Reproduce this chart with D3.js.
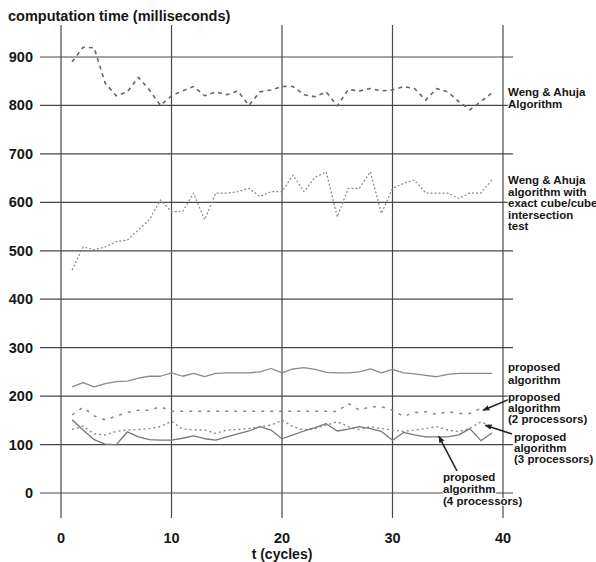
<!DOCTYPE html>
<html>
  <meta charset="utf-8">
  <head>
    <title>computation time</title>
  </head>
  <style>
    body { margin: 0; background: #fff; }
    text { font-family: "Liberation Sans", Arial, sans-serif; font-weight: bold; fill: #161616; }
    .grid line { stroke: #4a4a4a; stroke-width: 1.2; }
    .series { fill: none; stroke-linejoin: round; }
    .note { font-size: 11.5px; paint-order: stroke; stroke: #fff; stroke-width: 2px; }
  </style>
  <script src="https://d3js.org/d3.v7.min.js"></script>
  <body>
    <svg width="596" height="562"></svg>

    <script>
      // t (cycles)
      var cycles = [1, 2, 3, 4, 5, 6, 7, 8, 9, 10, 11, 12, 13, 14, 15, 16, 17, 18, 19, 20,
                    21, 22, 23, 24, 25, 26, 27, 28, 29, 30, 31, 32, 33, 34, 35, 36, 37, 38, 39];

      // computation time (ms)
      var wengAhuja = [890, 920, 919, 846, 820, 828, 858, 832, 800, 820, 830, 839, 820, 828, 822, 830, 800, 828, 832, 839,
                       839, 822, 818, 828, 799, 833, 830, 835, 830, 832, 839, 835, 811, 835, 828, 808, 791, 808, 826];
      var wengAhujaExact = [460, 508, 502, 508, 519, 522, 543, 564, 605, 581, 581, 619, 564, 619, 619, 622, 629, 612, 622, 622,
                            656, 622, 652, 663, 570, 629, 629, 663, 577, 629, 639, 646, 619, 619, 619, 608, 619, 619, 646];
      var proposed = [219, 228, 219, 226, 230, 231, 237, 241, 241, 248, 241, 247, 240, 247, 248, 248, 248, 250, 257, 248,
                      256, 259, 255, 249, 248, 248, 250, 256, 248, 255, 248, 246, 243, 240, 245, 247, 247, 247, 247];
      var proposed2 = [161, 177, 159, 151, 159, 166, 171, 171, 178, 169, 169, 169, 169, 169, 169, 169, 169, 169, 169, 169,
                       169, 169, 169, 169, 168, 185, 171, 178, 178, 171, 158, 166, 168, 162, 168, 164, 164, 175];
      var proposed3 = [131, 138, 122, 120, 127, 130, 131, 133, 137, 148, 132, 130, 130, 123, 130, 131, 133, 137, 140, 150,
                       137, 130, 133, 140, 147, 137, 131, 137, 133, 130, 127, 130, 133, 137, 130, 127, 133, 147, 137];
      var proposed4 = [151, 130, 110, 101, 100, 126, 116, 110, 109, 109, 113, 118, 112, 109, 116, 122, 128, 137, 130, 112,
                       120, 128, 135, 143, 128, 132, 137, 133, 127, 109, 125, 120, 116, 116, 116, 120, 133, 108, 124];

      var xTicks = [0, 10, 20, 30, 40];
      var yTicks = [0, 100, 200, 300, 400, 500, 600, 700, 800, 900];

      var yTitle = "computation time (milliseconds)";
      var xTitle = "t (cycles)";

      var labelWeng = ["Weng & Ahuja", "Algorithm"];
      var labelExact = ["Weng & Ahuja", "algorithm with", "exact cube/cube", "intersection", "test"];
      var labelProp = ["proposed", "algorithm"];
      var labelProp2 = ["proposed", "algorithm", "(2 processors)"];
      var labelProp3 = ["proposed", "algorithm", "(3 processors)"];
      var labelProp4 = ["proposed", "algorithm", "(4 processors)"];

      var svg = d3.select("svg");

      var x = d3.scaleLinear().domain([0, 40]).range([61, 503]);
      var y = d3.scaleLinear().domain([0, 900]).range([493, 57]);

      // grid
      var grid = svg.append("g").attr("class", "grid");
      grid.selectAll(".h").data(yTicks).enter().append("line")
          .attr("x1", 40).attr("x2", 513)
          .attr("y1", function(d) { return y(d); })
          .attr("y2", function(d) { return y(d); });
      grid.selectAll(".v").data(xTicks).enter().append("line")
          .attr("x1", function(d) { return x(d); })
          .attr("x2", function(d) { return x(d); })
          .attr("y1", 25).attr("y2", 518);

      // tick labels
      svg.append("g").selectAll("text").data(yTicks).enter().append("text")
          .attr("x", 33).attr("y", function(d) { return y(d) + 5; })
          .attr("text-anchor", "end")
          .style("font-size", "14.5px")
          .text(function(d) { return d; });

      svg.append("g").selectAll("text").data(xTicks).enter().append("text")
          .attr("x", function(d) { return x(d); }).attr("y", 543)
          .attr("text-anchor", "middle")
          .style("font-size", "14.5px")
          .text(function(d) { return d; });

      svg.append("text").attr("x", 8).attr("y", 21)
          .style("font-size", "14.5px").text(yTitle);
      svg.append("text").attr("x", x(20)).attr("y", 559)
          .attr("text-anchor", "middle")
          .style("font-size", "14px").text(xTitle);

      // series
      var series = [
        { v: wengAhuja, dash: "4,4", w: 1.6, c: "#666" },
        { v: wengAhujaExact, dash: "2,2", w: 1.2, c: "#888" },
        { v: proposed, dash: null, w: 1.3, c: "#8a8a8a" },
        { v: proposed2, dash: "3,6", w: 1.5, c: "#888" },
        { v: proposed3, dash: "2,3", w: 1.4, c: "#888" },
        { v: proposed4, dash: null, w: 1.3, c: "#777" }
      ];

      var line = d3.line()
          .x(function(d, i) { return x(cycles[i]); })
          .y(function(d) { return y(d); });

      svg.append("g").selectAll("path").data(series).enter().append("path")
          .attr("class", "series")
          .attr("d", function(s) { return line(s.v); })
          .attr("stroke", function(s) { return s.c; })
          .attr("stroke-width", function(s) { return s.w; })
          .attr("stroke-dasharray", function(s) { return s.dash; });

      // arrows
      svg.append("defs").append("marker")
          .attr("id", "head").attr("viewBox", "0 0 10 10")
          .attr("refX", 9).attr("refY", 5)
          .attr("markerWidth", 7).attr("markerHeight", 7)
          .attr("markerUnits", "userSpaceOnUse")
          .attr("orient", "auto")
        .append("path").attr("d", "M0,1L10,5L0,9z").attr("fill", "#222");

      function arrow(x1, y1, t, v) {
        svg.append("line")
            .attr("x1", x1).attr("y1", y1)
            .attr("x2", x(t)).attr("y2", y(v))
            .attr("stroke", "#222").attr("stroke-width", 1.6)
            .attr("marker-end", "url(#head)");
      }
      arrow(510, 399, 38.2, 171);
      arrow(512, 434, 38.4, 140);
      arrow(457, 471, 34.2, 117);

      // labels
      function note(lines, lx, ly, dy) {
        var t = svg.append("text").attr("class", "note");
        t.selectAll("tspan").data(lines).enter().append("tspan")
            .attr("x", lx)
            .attr("y", function(d, i) { return ly + i * dy; })
            .text(function(d) { return d; });
      }
      note(labelWeng, 508, 96, 12);
      note(labelExact, 508, 184, 11.5);
      note(labelProp, 508, 371, 12.5);
      note(labelProp2, 508, 401, 11);
      note(labelProp3, 514, 441, 11);
      note(labelProp4, 443, 481, 12);
    </script>
  </body>
</html>
